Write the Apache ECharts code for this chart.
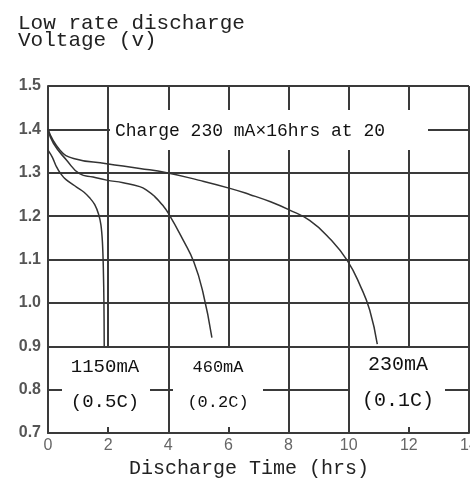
<!DOCTYPE html>
<html>
<head>
<meta charset="utf-8">
<script src="https://cdn.jsdelivr.net/npm/echarts@6/dist/echarts.min.js"></script>
<style>
  html, body { margin: 0; padding: 0; background: #fff; }
  #chart { width: 470px; height: 481px; }
</style>
</head>
<body>
<div id="chart"></div>
<script>
// discharge curves, hours vs volts
const hrs230 = [0, 0.4, 0.85, 1.95, 3.05, 3.95, 5.0, 6.05, 6.7, 7.4, 8.0, 8.7, 9.4, 9.95, 10.4, 10.7, 10.95];
const volt230 = [1.40, 1.352, 1.333, 1.321, 1.31, 1.30, 1.283, 1.264, 1.25, 1.233, 1.215, 1.19, 1.146, 1.098, 1.037, 0.983, 0.905];

const hrs460 = [0, 0.18, 0.62, 1.05, 1.5, 1.95, 2.5, 3.05, 3.3, 3.55, 3.8, 4.0, 4.5, 4.85, 5.15, 5.45];
const volt460 = [1.40, 1.368, 1.329, 1.298, 1.29, 1.283, 1.277, 1.268, 1.259, 1.245, 1.226, 1.207, 1.144, 1.094, 1.025, 0.92];

const hrs1150 = [0, 0.15, 0.28, 0.42, 0.6, 0.95, 1.2, 1.4, 1.55, 1.68, 1.76, 1.81, 1.84, 1.86, 1.87];
const volt1150 = [1.352, 1.335, 1.314, 1.298, 1.284, 1.267, 1.255, 1.241, 1.227, 1.205, 1.18, 1.14, 1.08, 1.0, 0.9];

const xRange = [0, 14, 2];
const yRange = [0.7, 1.5, 0.1];

const titleLines = ['Low rate discharge', 'Voltage (v)'];
const xName = 'Discharge Time (hrs)';
const chargeNote = 'Charge 230 mA\u00d716hrs at 20';
const rateLabels = [['1150mA', '(0.5C)'], ['460mA', '(0.2C)'], ['230mA', '(0.1C)']];

const pairs = (xs, ys) => xs.map((x, i) => [x, ys[i]]);

const gridColor = '#3a3a3a';
const mono = '"Liberation Mono", "DejaVu Sans Mono", monospace';

function curve(name, data, smooth) {
  return {
    name: name,
    type: 'line',
    data: data,
    smooth: smooth,
    showSymbol: false,
    silent: true,
    lineStyle: { color: '#333', width: 1.5 }
  };
}

function textEl(x, y, text, size, align) {
  return {
    type: 'text', x: x, y: y, z: 101,
    style: { text: text, font: size + 'px ' + mono, fill: '#111', align: align || 'center', verticalAlign: 'middle' }
  };
}

function rectEl(left, top, width, height) {
  return { type: 'rect', z: 100, shape: { x: left, y: top, width: width, height: height }, style: { fill: '#fff' } };
}

const chart = echarts.init(document.getElementById('chart'), null, { renderer: 'canvas' });

chart.setOption({
  backgroundColor: '#fff',
  animation: false,
  title: {
    text: titleLines.join('\n'),
    left: 13,
    top: 10,
    textStyle: { fontFamily: mono, fontSize: 21, fontWeight: 'normal', color: '#222', lineHeight: 17 }
  },
  grid: { left: 48, right: 1, top: 86, bottom: 48, containLabel: false, outerBoundsMode: 'none' },
  xAxis: {
    type: 'value',
    min: xRange[0],
    max: xRange[1],
    interval: xRange[2],
    name: xName,
    nameLocation: 'middle',
    nameGap: 26,
    nameTextStyle: { fontFamily: mono, fontSize: 20, color: '#222', padding: [0, 19, 0, 0] },
    axisLine: { lineStyle: { color: gridColor, width: 2 } },
    axisTick: { show: false },
    axisLabel: { margin: 5, fontFamily: '"Liberation Sans Narrow", "Liberation Sans", sans-serif', fontSize: 16, color: '#666' },
    splitLine: { show: true, lineStyle: { color: gridColor, width: 2 } }
  },
  yAxis: {
    type: 'value',
    min: yRange[0],
    max: yRange[1],
    interval: yRange[2],
    axisLine: { show: true, lineStyle: { color: gridColor, width: 2 } },
    axisTick: { show: false },
    axisLabel: {
      margin: 7,
      fontFamily: '"Liberation Sans", sans-serif',
      fontSize: 16,
      fontWeight: 'bold',
      color: '#555',
      formatter: v => v.toFixed(1)
    },
    splitLine: { show: true, lineStyle: { color: gridColor, width: 2 } }
  },
  series: [
    curve('230mA', pairs(hrs230, volt230), 0.5),
    curve('460mA', pairs(hrs460, volt460), 0.5),
    curve('1150mA', pairs(hrs1150, volt1150), 0.35)
  ],
  graphic: [
    rectEl(110, 110, 318, 40),
    textEl(115, 131, chargeNote, 18, 'left'),
    rectEl(62, 348, 88, 79),
    textEl(105, 367, rateLabels[0][0], 19),
    textEl(105, 402, rateLabels[0][1], 19),
    rectEl(173, 348, 90, 79),
    textEl(218, 367, rateLabels[1][0], 17),
    textEl(218, 402, rateLabels[1][1], 17),
    rectEl(350, 348, 95, 79),
    textEl(398, 365, rateLabels[2][0], 20),
    textEl(398, 401, rateLabels[2][1], 20)
  ]
});
</script>
</body>
</html>
